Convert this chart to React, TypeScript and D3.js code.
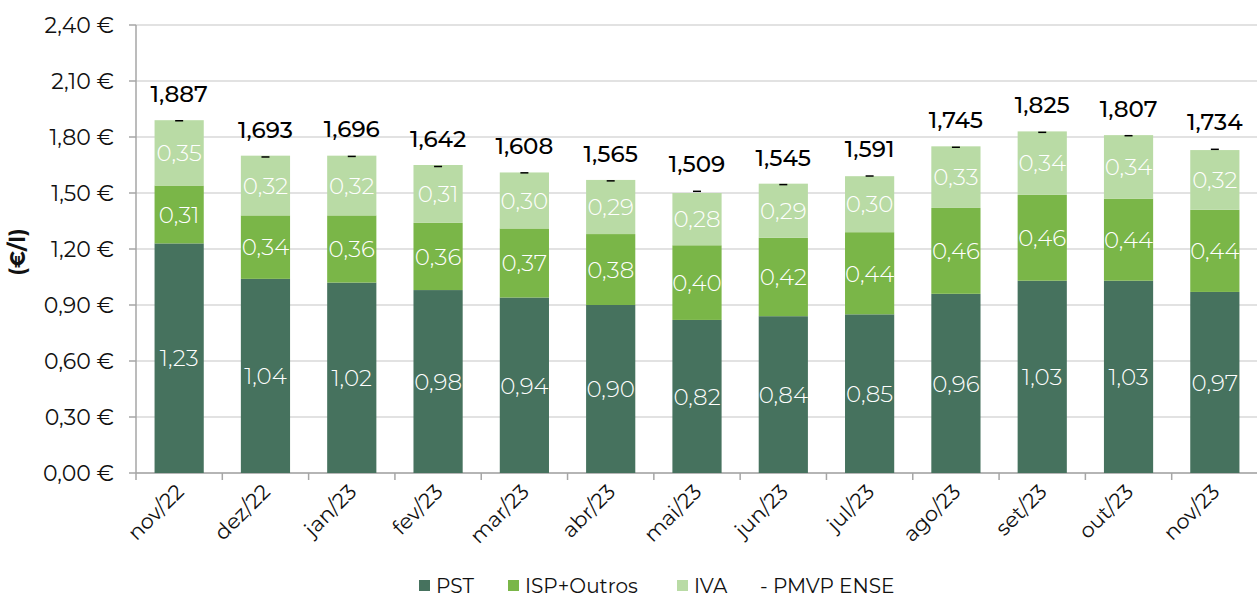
import React from "react";
import * as d3 from "d3";

const categories = ["nov/22","dez/22","jan/23","fev/23","mar/23","abr/23","mai/23","jun/23","jul/23","ago/23","set/23","out/23","nov/23"];
const pst = [1.23,1.04,1.02,0.98,0.94,0.90,0.82,0.84,0.85,0.96,1.03,1.03,0.97];
const isp = [0.31,0.34,0.36,0.36,0.37,0.38,0.40,0.42,0.44,0.46,0.46,0.44,0.44];
const iva = [0.35,0.32,0.32,0.31,0.30,0.29,0.28,0.29,0.30,0.33,0.34,0.34,0.32];
const pmvp = [1.887,1.693,1.696,1.642,1.608,1.565,1.509,1.545,1.591,1.745,1.825,1.807,1.734];
const yTicks = [0,0.3,0.6,0.9,1.2,1.5,1.8,2.1,2.4];

const colors = { pst: "#46725E", isp: "#7AB648", iva: "#B9DBA5" };
const font = "Montserrat, 'Open Sans', Lato, sans-serif";

export default function App() {
  const W = 1257, H = 598;
  const left = 136, right = 1258, top = 25, bottom = 473;
  const x = d3.scaleBand<string>().domain(categories).range([left, right]).paddingInner(0.43).paddingOuter(0.215);
  const y = d3.scaleLinear().domain([0, 2.4]).range([bottom, top]);
  const fmt = (v: number, d: number) => v.toFixed(d).replace(".", ",");
  const bw = x.bandwidth();
  const step = x.step();

  return (
    <svg width={W} height={H} style={{ position: "absolute", left: 0, top: 0, fontFamily: font }}>
      {yTicks.map((t) => (
        <g key={t}>
          <line x1={left} x2={W} y1={y(t)} y2={y(t)} stroke="#d9d9d9" strokeWidth={1.5} />
          <line x1={left - 7} x2={left} y1={y(t)} y2={y(t)} stroke="#a6a6a6" strokeWidth={1.5} />
          <text x={left - 22} y={y(t)} dy="0.35em" textAnchor="end" fontSize={22} fill="#111">{fmt(t, 2) + " €"}</text>
        </g>
      ))}
      <line x1={left} x2={left} y1={top} y2={bottom + 7} stroke="#a6a6a6" strokeWidth={1.5} />
      <line x1={left} x2={W} y1={bottom} y2={bottom} stroke="#a6a6a6" strokeWidth={1.5} />
      {categories.map((c, i) => (
        <line key={"t" + i} x1={left + step * (i + 1)} x2={left + step * (i + 1)} y1={bottom} y2={bottom + 7} stroke="#a6a6a6" strokeWidth={1.5} />
      ))}
      <text transform={`translate(25,${(top + bottom) / 2 + 3}) rotate(-90)`} textAnchor="middle" fontSize={21} fontWeight={700} fill="#111">(€/l)</text>
      {categories.map((c, i) => {
        const x0 = x(c)!;
        const cx = x0 + bw / 2;
        const segs = [
          { v: pst[i], b: 0, col: colors.pst },
          { v: isp[i], b: pst[i], col: colors.isp },
          { v: iva[i], b: pst[i] + isp[i], col: colors.iva },
        ];
        return (
          <g key={c}>
            {segs.map((s, k) => (
              <g key={k}>
                <rect x={x0} width={bw} y={y(s.b + s.v)} height={y(s.b) - y(s.b + s.v)} fill={s.col} />
                <text x={cx} y={y(s.b + s.v / 2)} dy="0.36em" textAnchor="middle" fontSize={23} fontWeight={300} fill="#fff">{fmt(s.v, 2)}</text>
              </g>
            ))}
            <line x1={cx - 4} x2={cx + 4} y1={y(pmvp[i])} y2={y(pmvp[i])} stroke="#000" strokeWidth={1.5} />
            <text x={cx} y={y(pmvp[i]) - 19} textAnchor="middle" fontSize={23} fontWeight={500} fill="#000">{fmt(pmvp[i], 3)}</text>
            <text transform={`translate(${cx + 6},${bottom + 20}) rotate(-45)`} textAnchor="end" fontSize={21} fill="#111">{c}</text>
          </g>
        );
      })}
      <g fontSize={20} fill="#111">
        <rect x={419} y={580} width={11} height={11} fill={colors.pst} />
        <text x={436} y={593}>PST</text>
        <rect x={508} y={580} width={11} height={11} fill={colors.isp} />
        <text x={525} y={593}>ISP+Outros</text>
        <rect x={677} y={580} width={11} height={11} fill={colors.iva} />
        <text x={694} y={593}>IVA</text>
        <text x={760} y={593}>- PMVP ENSE</text>
      </g>
    </svg>
  );
}
